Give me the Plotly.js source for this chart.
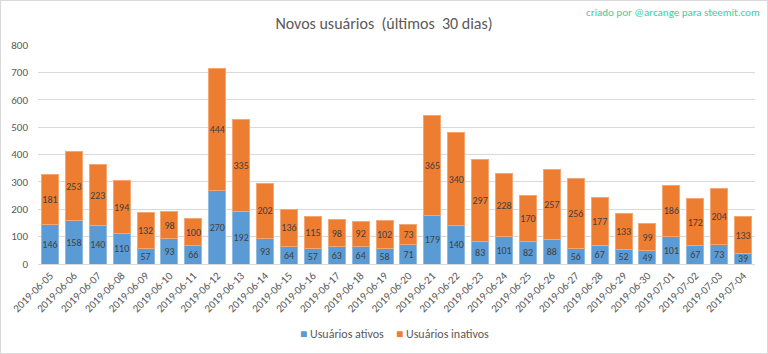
<!DOCTYPE html>
<html><head><meta charset="utf-8">
<script src="https://cdn.plot.ly/plotly-3.0.1.min.js"></script>
<style>html,body{margin:0;padding:0;background:#fff}#c{width:766px;height:352px;border:1px solid #d9d9d9}</style>
</head><body><div id="c"></div>
<script>
const dates = ["2019-06-05","2019-06-06","2019-06-07","2019-06-08","2019-06-09","2019-06-10","2019-06-11","2019-06-12","2019-06-13","2019-06-14","2019-06-15","2019-06-16","2019-06-17","2019-06-18","2019-06-19","2019-06-20","2019-06-21","2019-06-22","2019-06-23","2019-06-24","2019-06-25","2019-06-26","2019-06-27","2019-06-28","2019-06-29","2019-06-30","2019-07-01","2019-07-02","2019-07-03","2019-07-04"];
const ativos = [146,158,140,110,57,93,66,270,192,93,64,57,63,64,58,71,179,140,83,101,82,88,56,67,52,49,101,67,73,39];
const inativos = [181,253,223,194,132,98,100,444,335,202,136,115,98,92,102,73,365,340,297,228,170,257,256,177,133,99,186,172,204,133];
const seriesNames = ['Usuários ativos','Usuários inativos'];
const seriesColors = ['#5B9BD5','#ED7D31'];
const yTicks = [0,100,200,300,400,500,600,700,800];

const font = "Carlito, 'Liberation Sans Narrow', Roboto, sans-serif";
const mk = (name, y, color, line) => ({
  type:'bar', name, x:dates, y, text:y.map(String), textposition:'inside',
  insidetextanchor:'middle', textangle:0, constraintext:'none',
  textfont:{family:font, size:10, color:'#404040'},
  marker:{color, line:{color:line, width:1}}, hoverinfo:'x+y', showlegend:false
});
const data = [
  mk(seriesNames[0], ativos, seriesColors[0], '#8fbbe3'),
  mk(seriesNames[1], inativos, seriesColors[1], '#f4a772')
];
const legendAnn = (i, x) => ({
  text:'<span style="color:'+seriesColors[i]+'">■</span> '+seriesNames[i],
  xref:'paper', yref:'paper', x, xanchor:'left', y:-0.32, yanchor:'middle',
  showarrow:false, font:{family:font, size:12, color:'#595959'}
});
const layout = {
  width:766, height:352, barmode:'stack', bargap:0.29,
  margin:{l:37, r:12, t:44, b:89},
  paper_bgcolor:'#fff', plot_bgcolor:'#fff',
  font:{family:font, color:'#595959'},
  title:{text:'Novos usuários  (últimos  30 dias)', font:{family:font, size:16, color:'#595959'}, x:0.5, xanchor:'center', y:0.935, yanchor:'middle', yref:'container'},
  xaxis:{type:'category', tickangle:-45, tickfont:{family:font, size:11, color:'#595959'}, showgrid:false, showline:true, linecolor:'#d9d9d9', ticks:'', automargin:false},
  yaxis:{range:[0,800], tickvals:yTicks, ticktext:yTicks.map(String), tickfont:{family:font, size:11, color:'#595959'}, gridcolor:'#d9d9d9', zeroline:false, showline:false, ticklabelstandoff:9, automargin:false},
  annotations:[
    {text:'criado por @arcange para steemit.com', xref:'paper', yref:'paper', x:1.01, xanchor:'right', y:1.15, yanchor:'middle', showarrow:false, font:{family:font, size:11, color:'#2ed3a0'}},
    legendAnn(0, 0.362), legendAnn(1, 0.497)
  ]
};
Plotly.newPlot('c', data, layout, {displayModeBar:false, staticPlot:true});
</script></body></html>
